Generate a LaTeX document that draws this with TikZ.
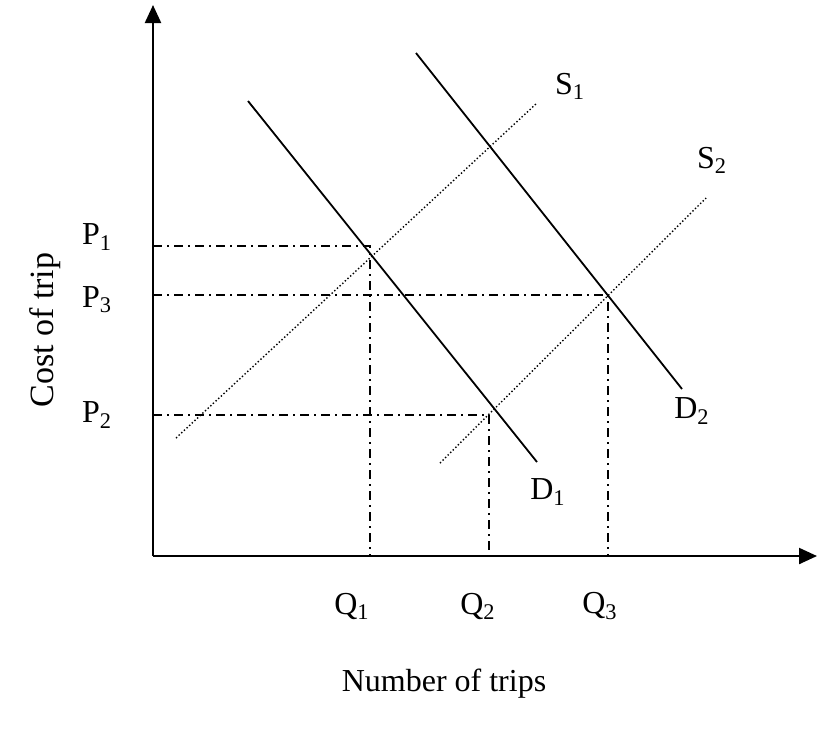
\documentclass[tikz,border=0pt]{standalone}
\usepackage{fontspec}
\setmainfont{Liberation Serif}
\usetikzlibrary{arrows.meta}
\begin{document}
\begin{tikzpicture}[x=0.5pt,y=-0.5pt,
axis/.style={line width=1.1pt, -{Triangle[length=9pt,width=8pt]}},
dem/.style={line width=0.9pt},
sply/.style={line width=0.7pt, dash pattern=on 0.7pt off 1.1pt},
guide/.style={line width=0.9pt, dash pattern=on 4.5pt off 2.5pt on 1pt off 2.5pt},
lbl/.style={font=\fontsize{16}{19}\selectfont, inner sep=0pt}
]
\useasboundingbox (0,0) rectangle (817,730);
% axes
\coordinate (o) at (153,556);
\coordinate (ytop) at (153,5);
\coordinate (xend) at (817,556);
\draw[axis] (o) -- (ytop);
\draw[axis] (o) -- (xend);
% demand and supply
\coordinate (d1a) at (248,101); \coordinate (d1b) at (537,462);
\coordinate (d2a) at (416,53);  \coordinate (d2b) at (682,389);
\coordinate (s1a) at (176,438); \coordinate (s1b) at (537,103);
\coordinate (s2a) at (440,463); \coordinate (s2b) at (706,198);
\draw[dem] (d1a) -- (d1b);
\draw[dem] (d2a) -- (d2b);
\draw[sply] (s1a) -- (s1b);
\draw[sply] (s2a) -- (s2b);
\node[lbl] (d1) at (548,492) {D\textsubscript{1}};
\node[lbl] (d2) at (692,411) {D\textsubscript{2}};
\node[lbl] (s1) at (570,86) {S\textsubscript{1}};
\node[lbl] (s2) at (712,160) {S\textsubscript{2}};
% equilibria
\foreach \n/\px/\py/\qx/\ly in {1/370/246/352/237, 3/608/295/600/300, 2/489/415/478/415} {
  \coordinate (e\n) at (\px,\py);
  \draw[guide] (o |- e\n) -- (e\n) -- (e\n |- o);
  \node[lbl] (p\n) at (97,\ly) {P\textsubscript{\n}};
  \node[lbl] (q\n) at (\qx,606) {Q\textsubscript{\n}};
}
\node[lbl, rotate=90, font=\fontsize{17}{20}\selectfont] (ylab) at (45,330) {Cost of trip};
\node[lbl] (xlab) at (444,684) {Number of trips};
\end{tikzpicture}
\end{document}
